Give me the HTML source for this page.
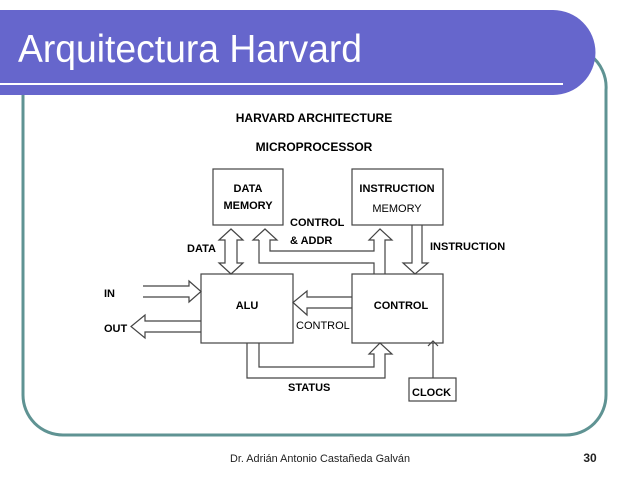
<!DOCTYPE html>
<html><head><style>
body{margin:0;width:638px;height:479px;background:#fff;overflow:hidden;font-family:"Liberation Sans",sans-serif;}
</style></head><body>
<svg width="638" height="479" viewBox="0 0 638 479" xmlns="http://www.w3.org/2000/svg" style="position:absolute;left:0;top:0">
<path d="M23,60 V395 A40,40 0 0 0 63,435 H566 A40,40 0 0 0 606,395 V90 A40,40 0 0 0 590,55" fill="none" stroke="#5f9393" stroke-width="3"/>
<path d="M0,10 H553 A42,42 0 0 1 553,95 H0 Z" fill="#6666cc"/>
<line x1="0" y1="84" x2="563" y2="84" stroke="#fff" stroke-width="2"/>
<text x="18" y="62" font-size="39" fill="#fff" font-family="Liberation Sans" textLength="344" lengthAdjust="spacingAndGlyphs">Arquitectura Harvard</text>
<g font-family="Liberation Sans" font-weight="bold" font-size="12" fill="#000">
<text x="314" y="122" text-anchor="middle">HARVARD ARCHITECTURE</text>
<text x="314" y="151" text-anchor="middle">MICROPROCESSOR</text>
</g>
<g fill="none" stroke="#444" stroke-width="1.2">
<rect x="213" y="169" width="70" height="56"/>
<rect x="352" y="169" width="91" height="56"/>
<rect x="201" y="274" width="92" height="69"/>
<rect x="352" y="274" width="91" height="69"/>
<rect x="409" y="378" width="47" height="23"/>
<path d="M225,240 H219 L231,229 L243,240 H237 V263 H243 L231,274 L219,263 H225 Z"/>
<path d="M259,240 H253 L265,229 L277,240 H270 V251 H374 V240 H369 L380,229 L392,240 H385 V274"/>
<path d="M259,240 V263 H374 V274"/>
<path d="M412,225 V263 H403 L415,274 L428,263 H422 V225"/>
<path d="M143,286 H189 V281 L201,291.5 L189,302 V297 H143"/>
<path d="M201,321 H145 V315 L131,326.5 L145,338 V332 H201"/>
<path d="M352,297 H307 V291 L293,302.5 L307,315 V308 H352"/>
<path d="M259,343 V367 H374 V354 H369 L380,343 L392,354 H385 V378 H247 V343"/>
<path d="M433,378 V343"/>
<path d="M428,346 L433,341 L438,346"/>
</g>
<g font-family="Liberation Sans" font-weight="bold" font-size="11" fill="#000">
<text x="248" y="192" text-anchor="middle">DATA</text>
<text x="248" y="209" text-anchor="middle">MEMORY</text>
<text x="397" y="192" text-anchor="middle">INSTRUCTION</text>
<text x="397" y="212" text-anchor="middle" font-weight="normal">MEMORY</text>
<text x="290" y="226">CONTROL</text>
<text x="290" y="244">&amp; ADDR</text>
<text x="187" y="252">DATA</text>
<text x="430" y="250">INSTRUCTION</text>
<text x="104" y="297">IN</text>
<text x="104" y="332">OUT</text>
<text x="247" y="309" text-anchor="middle">ALU</text>
<text x="401" y="309" text-anchor="middle">CONTROL</text>
<text x="296" y="329" font-weight="normal">CONTROL</text>
<text x="288" y="391">STATUS</text>
<text x="412" y="396">CLOCK</text>
</g>
<text x="230" y="462" font-size="11" fill="#222" textLength="180" lengthAdjust="spacingAndGlyphs">Dr. Adrián Antonio Castañeda Galván</text>
<text x="590" y="462" font-size="12" font-weight="bold" text-anchor="middle" fill="#222">30</text>
</svg>
</body></html>
